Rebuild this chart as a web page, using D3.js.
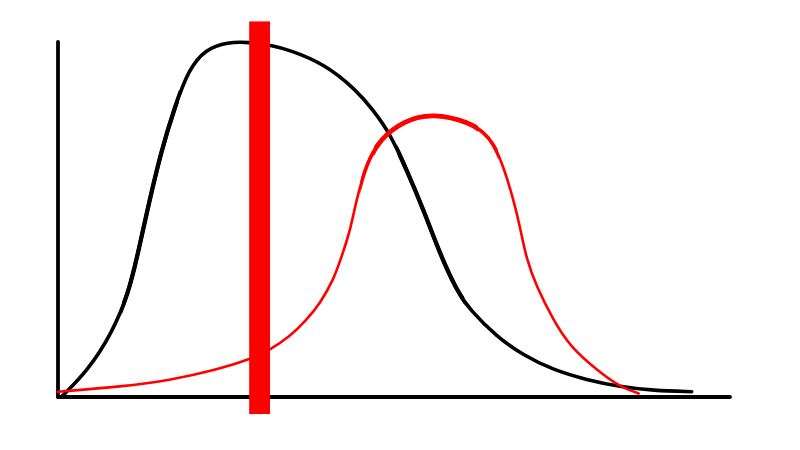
<!DOCTYPE html>
<html>
<head>
<meta charset="utf-8">
<script src="https://cdn.jsdelivr.net/npm/d3@7"></script>
<style>
  html, body { margin: 0; padding: 0; background: #fff; }
  svg { display: block; }
</style>
</head>
<body>
<svg id="chart"></svg>
<script>
// curve samples, x and y both in percent of the axis length
const blackX = [0.55, 4.5, 8.0, 10.5, 11.9, 13.4, 15.4, 17.4, 19.4, 21.9, 25.3, 28.3, 32.0, 34.5, 39.5, 44.4, 46.9, 49.4, 51.9, 54.4, 56.8, 59.3, 61.3, 65.3, 69.2, 73.7, 78.7, 83.6, 88.6, 94.3];
const blackY = [0.1, 7.6, 17.9, 29.2, 40.5, 53.6, 69.6, 81.8, 92.1, 98.0, 100.0, 100.0, 99.0, 97.7, 94.0, 86.5, 80.8, 74.3, 63.9, 52.7, 40.5, 30.1, 24.5, 17.0, 11.8, 7.6, 4.8, 2.9, 1.8, 1.5];

const redX = [0.0, 9.5, 16.9, 23.4, 28.3, 31.5, 34.5, 37.0, 39.0, 41.0, 42.2, 43.5, 44.4, 45.9, 47.9, 51.4, 55.8, 61.3, 63.3, 64.8, 66.3, 67.8, 68.8, 69.7, 71.2, 73.7, 76.2, 80.2, 83.6, 86.4];
const redY = [1.5, 2.9, 4.8, 7.6, 10.4, 13.2, 17.0, 21.7, 26.4, 33.0, 39.5, 47.0, 55.5, 65.8, 72.6, 77.8, 80.0, 77.3, 74.6, 71.5, 64.9, 55.5, 47.5, 38.9, 31.1, 21.7, 14.2, 7.6, 2.9, 1.0];

// stretches where the hand-drawn strokes get heavier: [from, to, stroke width]
const blackHeavy = [[9.5, 18.0, 4.3], [50.5, 60.5, 4.3]];
const redHeavy = [[45.0, 65.5, 3.6], [47.0, 62.5, 4.8]];

// vertical marker: centre, width, top and bottom
const markerX = 30.0;
const markerWidth = 3.1;
const markerTop = 105.8;
const markerBottom = -4.8;

const width = 800;
const height = 450;
const margin = { top: 42, right: 70, bottom: 53, left: 58 };

const svg = d3.select("#chart")
  .attr("width", width)
  .attr("height", height);

const x = d3.scaleLinear().domain([0, 100]).range([margin.left, width - margin.right]);
const y = d3.scaleLinear().domain([0, 100]).range([height - margin.bottom, margin.top]);

// basis spline smooths the hand-read samples
const line = d3.line()
  .x(d => x(d[0]))
  .y(d => y(d[1]))
  .curve(d3.curveBasis);

const blackData = d3.zip(blackX, blackY);
const redData = d3.zip(redX, redY);

// axes are plain strokes, no ticks
svg.append("line")
  .attr("x1", x(0)).attr("y1", y(0))
  .attr("x2", x(0)).attr("y2", y(100))
  .attr("stroke", "#000")
  .attr("stroke-width", 3.8)
  .attr("stroke-linecap", "round");

svg.append("line")
  .attr("x1", x(0)).attr("y1", y(0))
  .attr("x2", x(100)).attr("y2", y(0))
  .attr("stroke", "#000")
  .attr("stroke-width", 3.8)
  .attr("stroke-linecap", "round");

const defs = svg.append("defs");

function drawCurve(data, colour, baseWidth, heavy, id) {
  svg.append("path")
    .datum(data)
    .attr("d", line)
    .attr("fill", "none")
    .attr("stroke", colour)
    .attr("stroke-width", baseWidth)
    .attr("stroke-linecap", "round");

  // same geometry again, clipped to an x range, with a wider stroke
  heavy.forEach((h, i) => {
    defs.append("clipPath")
      .attr("id", id + i)
      .append("rect")
      .attr("x", x(h[0]))
      .attr("width", x(h[1]) - x(h[0]))
      .attr("y", 0)
      .attr("height", height);

    svg.append("path")
      .datum(data)
      .attr("d", line)
      .attr("clip-path", `url(#${id + i})`)
      .attr("fill", "none")
      .attr("stroke", colour)
      .attr("stroke-width", h[2]);
  });
}

drawCurve(blackData, "#000", 3.6, blackHeavy, "blackClip");
drawCurve(redData, "#ff0000", 2.6, redHeavy, "redClip");

svg.append("rect")
  .attr("x", x(markerX - markerWidth / 2))
  .attr("width", x(markerX + markerWidth / 2) - x(markerX - markerWidth / 2))
  .attr("y", y(markerTop))
  .attr("height", y(markerBottom) - y(markerTop))
  .attr("fill", "#ff0000");
</script>
</body>
</html>
